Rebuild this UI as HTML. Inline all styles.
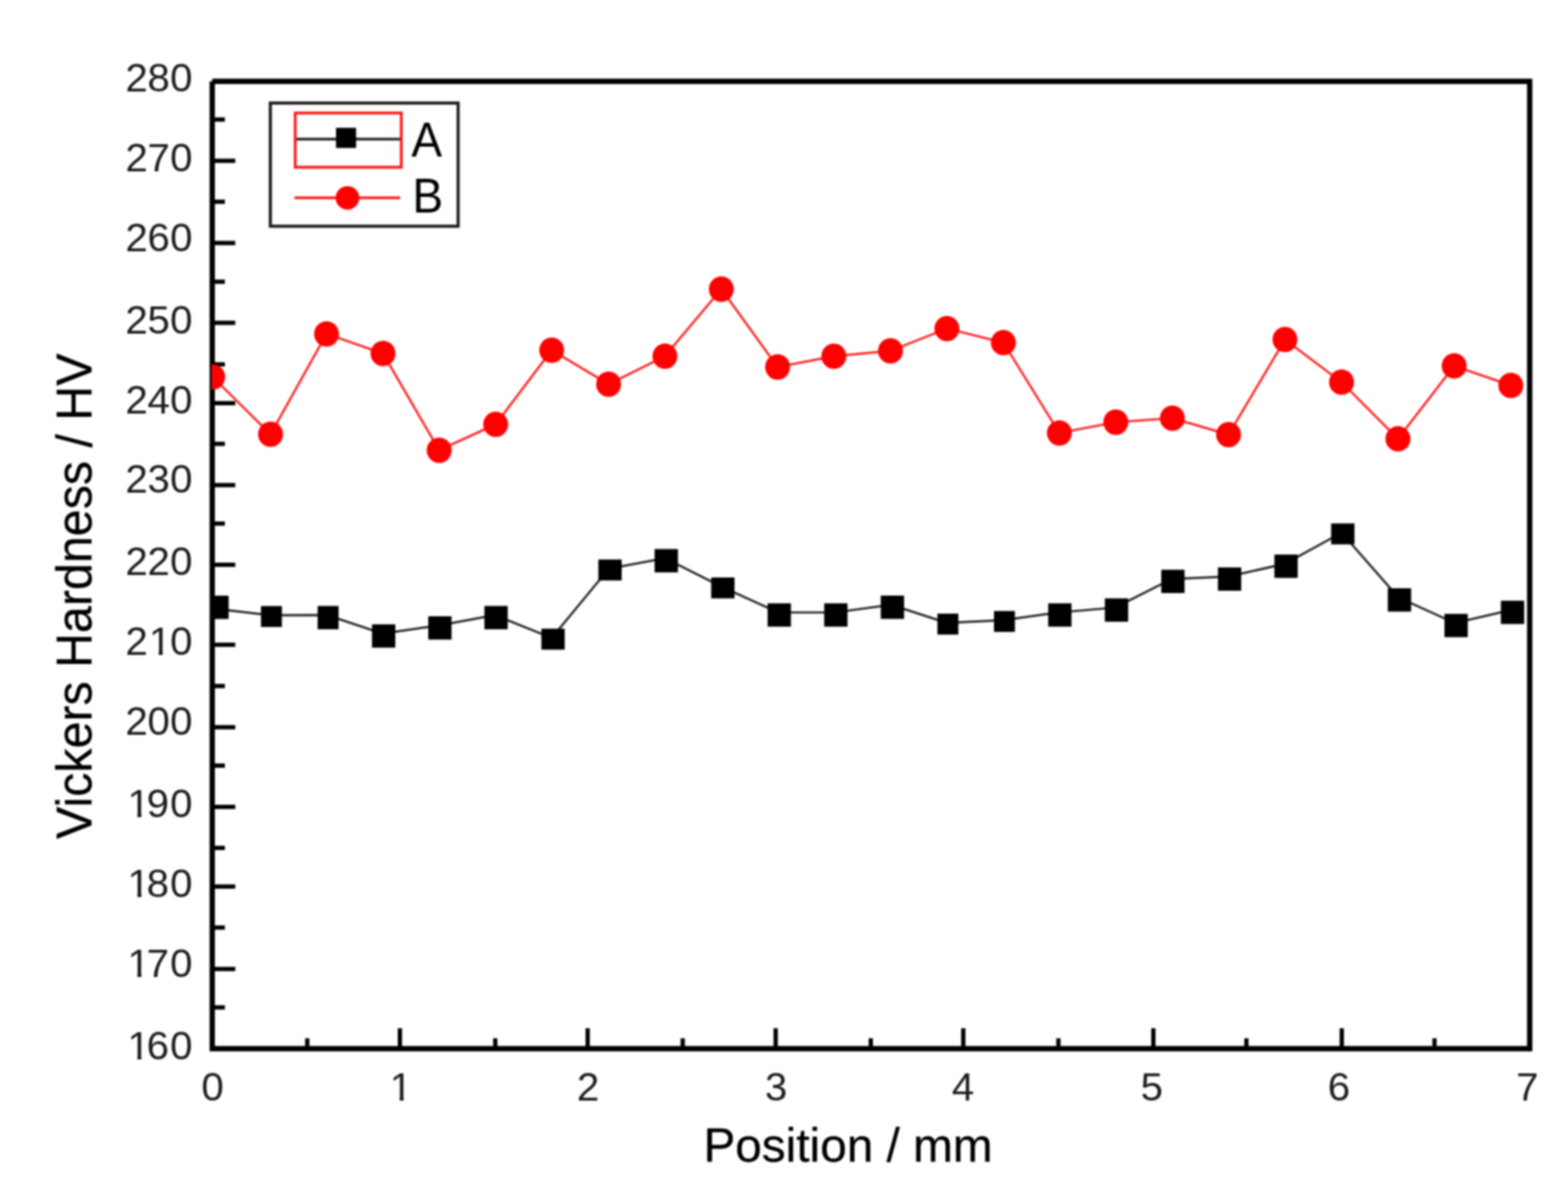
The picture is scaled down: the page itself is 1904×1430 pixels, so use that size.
<!DOCTYPE html>
<html lang="en">
<head>
<meta charset="utf-8">
<title>Vickers Hardness vs Position</title>
<style>
html,body{margin:0;padding:0;background:#fff;}
body{width:1904px;height:1430px;overflow:hidden;position:relative;}
svg{position:absolute;left:0;top:0;display:block;filter:blur(0.9px);}
text{font-family:"Liberation Sans",sans-serif;fill:#1c1c1c;}
.tick{font-size:49px;}
.axl{font-size:58px;fill:#000;stroke:#000;stroke-width:0.35px;}
.leg{font-size:56px;fill:#000;}
</style>
</head>
<body>
<svg width="1904" height="1430" viewBox="0 0 1904 1430">
<rect x="0" y="0" width="1904" height="1430" fill="#ffffff"/>
<defs><clipPath id="c1"><path clip-rule="evenodd" d="M-120 -60H60V30H-120Z M-51.81 -4.6H-41.31V2H-51.81Z M-36.41 -4.6H-26.81V2H-36.41Z"/></clipPath><clipPath id="c2"><path clip-rule="evenodd" d="M-120 -60H60V30H-120Z M-77.66 -4.6H-67.16V2H-77.66Z M-62.26 -4.6H-52.66V2H-62.26Z"/></clipPath><clipPath id="c3"><path clip-rule="evenodd" d="M-120 -60H60V30H-120Z M-77.66 -4.6H-67.16V2H-77.66Z M-62.26 -4.6H-52.66V2H-62.26Z"/></clipPath><clipPath id="c4"><path clip-rule="evenodd" d="M-120 -60H60V30H-120Z M-77.66 -4.6H-67.16V2H-77.66Z M-62.26 -4.6H-52.66V2H-62.26Z"/></clipPath><clipPath id="c5"><path clip-rule="evenodd" d="M-120 -60H60V30H-120Z M-77.66 -4.6H-67.16V2H-77.66Z M-62.26 -4.6H-52.66V2H-62.26Z"/></clipPath><clipPath id="c6"><path clip-rule="evenodd" d="M-120 -60H60V30H-120Z M-12.13 -4.6H-1.63V2H-12.13Z M3.27 -4.6H12.87V2H3.27Z"/></clipPath><clipPath id="plot"><rect x="256.9" y="98.8" width="1600.6" height="1174.2"/></clipPath></defs>
<g fill="none" stroke="#000" stroke-width="6.4" stroke-linecap="butt" stroke-linejoin="miter">
<path d="M257.70 98.75 H1857.50 V1273.00 H257.70 V98.75"/>
</g>
<g stroke="#000" stroke-width="5.2" stroke-linecap="butt">
<line x1="257.7" y1="145.1" x2="273.1" y2="145.1"/>
<line x1="257.7" y1="195.2" x2="285.7" y2="195.2"/>
<line x1="257.7" y1="244.9" x2="273.1" y2="244.9"/>
<line x1="257.7" y1="295.0" x2="285.7" y2="295.0"/>
<line x1="257.7" y1="342.0" x2="273.1" y2="342.0"/>
<line x1="257.7" y1="391.9" x2="285.7" y2="391.9"/>
<line x1="257.7" y1="442.3" x2="273.1" y2="442.3"/>
<line x1="257.7" y1="489.4" x2="285.7" y2="489.4"/>
<line x1="257.7" y1="538.8" x2="273.1" y2="538.8"/>
<line x1="257.7" y1="588.9" x2="285.7" y2="588.9"/>
<line x1="257.7" y1="635.6" x2="273.1" y2="635.6"/>
<line x1="257.7" y1="685.6" x2="285.7" y2="685.6"/>
<line x1="257.7" y1="735.0" x2="273.1" y2="735.0"/>
<line x1="257.7" y1="782.7" x2="285.7" y2="782.7"/>
<line x1="257.7" y1="832.8" x2="273.1" y2="832.8"/>
<line x1="257.7" y1="882.8" x2="285.7" y2="882.8"/>
<line x1="257.7" y1="929.4" x2="273.1" y2="929.4"/>
<line x1="257.7" y1="979.5" x2="285.7" y2="979.5"/>
<line x1="257.7" y1="1029.3" x2="273.1" y2="1029.3"/>
<line x1="257.7" y1="1076.2" x2="285.7" y2="1076.2"/>
<line x1="257.7" y1="1126.0" x2="273.1" y2="1126.0"/>
<line x1="257.7" y1="1176.3" x2="285.7" y2="1176.3"/>
<line x1="257.7" y1="1222.9" x2="273.1" y2="1222.9"/>
<line x1="373.1" y1="1273.0" x2="373.1" y2="1260.4"/>
<line x1="485.6" y1="1273.0" x2="485.6" y2="1248.2"/>
<line x1="601.4" y1="1273.0" x2="601.4" y2="1260.4"/>
<line x1="713.6" y1="1273.0" x2="713.6" y2="1248.2"/>
<line x1="829.0" y1="1273.0" x2="829.0" y2="1260.4"/>
<line x1="941.9" y1="1273.0" x2="941.9" y2="1248.2"/>
<line x1="1057.4" y1="1273.0" x2="1057.4" y2="1260.4"/>
<line x1="1169.7" y1="1273.0" x2="1169.7" y2="1248.2"/>
<line x1="1285.2" y1="1273.0" x2="1285.2" y2="1260.4"/>
<line x1="1400.5" y1="1273.0" x2="1400.5" y2="1248.2"/>
<line x1="1513.5" y1="1273.0" x2="1513.5" y2="1260.4"/>
<line x1="1629.3" y1="1273.0" x2="1629.3" y2="1248.2"/>
<line x1="1741.9" y1="1273.0" x2="1741.9" y2="1260.4"/>
</g>
<g clip-path="url(#plot)">
<polyline fill="none" stroke="#262626" stroke-width="2.7" points="258.3,738.6 328.1,746.9 396.9,746.7 464.3,769.0 532.6,759.3 600.9,746.7 670.0,774.4 739.2,690.4 807.5,677.6 876.3,712.2 944.8,743.5 1013.4,743.5 1082.2,734.1 1149.5,756.1 1218.2,752.9 1285.5,743.5 1354.3,737.5 1422.8,702.8 1491.6,699.9 1560.2,684.4 1629.1,646.6 1697.9,725.2 1766.7,756.4 1835.2,740.4"/>
<polyline fill="none" stroke="#ff2020" stroke-width="2.7" points="258.3,457.6 328.5,527.2 396.5,405.3 465.1,429.2 533.3,546.6 601.9,515.1 669.9,425.1 739.0,466.4 807.4,432.4 875.9,351.0 944.2,445.5 1012.5,432.4 1081.3,425.9 1149.8,398.8 1218.4,415.9 1286.4,525.6 1354.9,512.5 1423.6,507.7 1491.8,527.6 1560.3,412.2 1629.0,463.9 1697.5,532.7 1765.8,444.2 1834.6,467.9"/>
<g fill="#000">
<rect x="249.3" y="723.1" width="28.3" height="28.3"/>
<rect x="316.9" y="735.7" width="25.4" height="25.4"/>
<rect x="385.7" y="735.6" width="25.4" height="28.3"/>
<rect x="451.7" y="757.9" width="28.3" height="28.3"/>
<rect x="520.0" y="748.1" width="28.3" height="28.3"/>
<rect x="588.2" y="735.6" width="28.3" height="28.3"/>
<rect x="657.4" y="763.2" width="28.3" height="25.4"/>
<rect x="726.6" y="679.2" width="28.3" height="25.4"/>
<rect x="794.9" y="666.5" width="28.3" height="28.3"/>
<rect x="863.6" y="701.0" width="28.3" height="25.4"/>
<rect x="932.1" y="732.4" width="28.3" height="28.3"/>
<rect x="1000.8" y="732.4" width="28.3" height="28.3"/>
<rect x="1069.5" y="723.0" width="28.3" height="28.3"/>
<rect x="1138.3" y="744.9" width="25.4" height="25.4"/>
<rect x="1207.0" y="741.7" width="25.4" height="25.4"/>
<rect x="1272.8" y="732.4" width="28.3" height="28.3"/>
<rect x="1341.6" y="726.4" width="28.3" height="28.3"/>
<rect x="1410.1" y="691.6" width="28.3" height="28.3"/>
<rect x="1478.9" y="688.8" width="28.3" height="28.3"/>
<rect x="1547.5" y="673.2" width="28.3" height="28.3"/>
<rect x="1616.4" y="635.4" width="28.3" height="25.4"/>
<rect x="1685.2" y="714.1" width="28.3" height="28.3"/>
<rect x="1754.0" y="745.2" width="28.3" height="28.3"/>
<rect x="1822.5" y="729.2" width="28.3" height="28.3"/>
</g>
<g fill="#ff0000">
<ellipse cx="258.3" cy="457.6" rx="15.1" ry="15.4"/>
<ellipse cx="328.5" cy="527.2" rx="15.1" ry="15.4"/>
<ellipse cx="396.5" cy="405.3" rx="15.1" ry="15.4"/>
<ellipse cx="465.1" cy="429.2" rx="15.1" ry="15.4"/>
<ellipse cx="533.3" cy="546.6" rx="15.1" ry="15.4"/>
<ellipse cx="601.9" cy="515.1" rx="15.1" ry="15.4"/>
<ellipse cx="669.9" cy="425.1" rx="15.1" ry="15.4"/>
<ellipse cx="739.0" cy="466.4" rx="15.1" ry="15.4"/>
<ellipse cx="807.4" cy="432.4" rx="15.1" ry="15.4"/>
<ellipse cx="875.9" cy="351.0" rx="15.1" ry="15.4"/>
<ellipse cx="944.2" cy="445.5" rx="15.1" ry="15.4"/>
<ellipse cx="1012.5" cy="432.4" rx="15.1" ry="15.4"/>
<ellipse cx="1081.3" cy="425.9" rx="15.1" ry="15.4"/>
<ellipse cx="1149.8" cy="398.8" rx="15.1" ry="15.4"/>
<ellipse cx="1218.4" cy="415.9" rx="15.1" ry="15.4"/>
<ellipse cx="1286.4" cy="525.6" rx="15.1" ry="15.4"/>
<ellipse cx="1354.9" cy="512.5" rx="15.1" ry="15.4"/>
<ellipse cx="1423.6" cy="507.7" rx="15.1" ry="15.4"/>
<ellipse cx="1491.8" cy="527.6" rx="15.1" ry="15.4"/>
<ellipse cx="1560.3" cy="412.2" rx="15.1" ry="15.4"/>
<ellipse cx="1629.0" cy="463.9" rx="15.1" ry="15.4"/>
<ellipse cx="1697.5" cy="532.7" rx="15.1" ry="15.4"/>
<ellipse cx="1765.8" cy="444.2" rx="15.1" ry="15.4"/>
<ellipse cx="1834.6" cy="467.9" rx="15.1" ry="15.4"/>
</g>
</g>
<g fill="none">
<rect x="328.3" y="125.1" width="228.0" height="149.5" stroke="#1c1c1c" stroke-width="3.8" fill="#fff"/>
<line x1="358" y1="168.8" x2="486" y2="168.8" stroke="#222" stroke-width="3.3"/>
<rect x="358.5" y="137.2" width="128.8" height="65.8" stroke="#ff1414" stroke-width="3.4"/>
<rect x="408" y="155.2" width="24.4" height="24.4" fill="#000"/>
<line x1="357.5" y1="240.2" x2="486" y2="240.2" stroke="#ff1414" stroke-width="3.3"/>
<circle cx="421.9" cy="240.2" r="14.3" fill="#ff0000"/>
</g>
<text class="leg" transform="translate(499.5 189.6) scale(1 1.06)">A</text>
<text class="leg" transform="translate(500.7 258.3) scale(1 1.06)">B</text>
<g class="tick">
<text transform="translate(234.0 110.6) scale(1 1.00)" x="-81.8 -55.1 -27.6">280</text>
<text transform="translate(234.0 207.8) scale(1 1.00)" x="-81.8 -55.1 -27.6">270</text>
<text transform="translate(234.0 305.1) scale(1 1.00)" x="-81.8 -55.1 -27.6">260</text>
<text transform="translate(234.0 404.8) scale(1 1.00)" x="-81.8 -55.1 -27.6">250</text>
<text transform="translate(234.0 501.5) scale(1 1.00)" x="-81.8 -55.1 -27.6">240</text>
<text transform="translate(234.0 598.1) scale(1 1.00)" x="-81.8 -55.1 -27.6">230</text>
<text transform="translate(234.0 697.9) scale(1 1.00)" x="-81.8 -55.1 -27.6">220</text>
<text clip-path="url(#c1)" transform="translate(234.0 795.3) scale(1 1.00)" x="-81.8 -53.3 -27.6">210</text>
<text transform="translate(234.0 891.8) scale(1 1.00)" x="-81.8 -55.1 -27.6">200</text>
<text clip-path="url(#c2)" transform="translate(234.0 992.0) scale(1 1.00)" x="-79.2 -55.9 -27.6">190</text>
<text clip-path="url(#c3)" transform="translate(234.0 1088.5) scale(1 1.00)" x="-79.2 -55.9 -27.6">180</text>
<text clip-path="url(#c4)" transform="translate(234.0 1185.9) scale(1 1.00)" x="-79.2 -55.9 -27.6">170</text>
<text clip-path="url(#c5)" transform="translate(234.0 1285.7) scale(1 1.00)" x="-79.2 -55.9 -27.6">160</text>
<text transform="translate(258.0 1335.6) scale(1 1.00)" x="-13.6">0</text>
<text clip-path="url(#c6)" transform="translate(486.9 1335.6) scale(1 1.00)" x="-13.6">1</text>
<text transform="translate(714.0 1335.6) scale(1 1.00)" x="-13.6">2</text>
<text transform="translate(942.3 1335.6) scale(1 1.00)" x="-13.6">3</text>
<text transform="translate(1169.4 1335.6) scale(1 1.00)" x="-13.6">4</text>
<text transform="translate(1398.6 1335.6) scale(1 1.00)" x="-13.6">5</text>
<text transform="translate(1625.8 1335.6) scale(1 1.00)" x="-13.6">6</text>
<text transform="translate(1854.5 1335.6) scale(1 1.00)" x="-13.6">7</text>
</g>
<text class="axl" text-anchor="middle" transform="translate(1029.8 1409.8) scale(1 0.975)">Position / mm</text>
<text class="axl" text-anchor="middle" transform="translate(110.7 723.8) rotate(-90) scale(1.012 1.06)">Vickers Hardness / HV</text>
</svg>
</body>
</html>
